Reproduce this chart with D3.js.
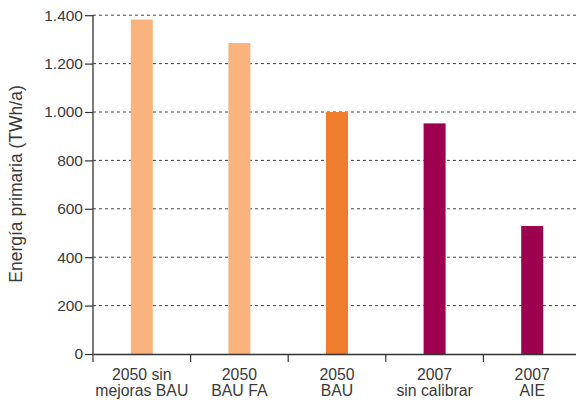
<!DOCTYPE html>
<html><head><meta charset="utf-8">
<script src="https://cdn.jsdelivr.net/npm/d3@7"></script>
<style>body{margin:0;background:#fff}svg{display:block}text{font-family:"Liberation Sans",Arial,sans-serif;fill:#3a3a3a}</style>
</head><body><svg id="c" width="576" height="400"></svg>
<script>
const categories = [["2050 sin","mejoras BAU"],["2050","BAU FA"],["2050","BAU"],["2007","sin calibrar"],["2007","AIE"]];
const values = [1382, 1285, 1000, 953, 529];
const colors = ["#FBB37D","#FBB37D","#EE7E2D","#9E0050","#9E0050"];
const yTicks = [0,200,400,600,800,1000,1200,1400];
const yLabel = "Energía primaria (TWh/a)";

const svg = d3.select("#c");
const x = d3.scaleBand().domain(d3.range(categories.length)).range([93, 581]);
const y = d3.scaleLinear().domain([0,1400]).range([354, 15.2]);
const fmt = v => d3.format(",")(v).replace(/,/g,".");

// gridlines
svg.append("g").selectAll("line").data(yTicks.filter(t=>t>0)).join("line")
  .attr("x1",93).attr("x2",576).attr("y1",d=>y(d)).attr("y2",d=>y(d))
  .attr("stroke","#444").attr("stroke-width",1).attr("stroke-dasharray","3,3");

// bars
svg.append("g").selectAll("rect").data(values).join("rect")
  .attr("x",(d,i)=>x(i)+x.bandwidth()/2-11).attr("width",22)
  .attr("y",d=>y(d)).attr("height",d=>y(0)-y(d)).attr("fill",(d,i)=>colors[i]);

// y axis
const ya = svg.append("g").attr("transform","translate(93,0)")
  .call(d3.axisLeft(y).tickValues(yTicks).tickFormat(fmt).tickSize(8).tickPadding(2));
ya.select(".domain").attr("stroke","#333").attr("stroke-width",1.3).attr("d","M0,354V15");
ya.selectAll(".tick line").attr("stroke","#333").attr("stroke-width",1.2);
ya.selectAll(".tick text").attr("font-size",15.5).attr("fill","#3a3a3a").style("font-family","'Liberation Sans',Arial,sans-serif");

// x axis
const xa = svg.append("g").attr("transform","translate(0,354)")
  .call(d3.axisBottom(x).tickSize(0).tickFormat(""));
xa.select(".domain").attr("stroke","#333").attr("stroke-width",1.3);
xa.selectAll(".tick").remove();
svg.append("g").selectAll("line").data(d3.range(categories.length)).join("line")
  .attr("x1",i=>x(i)).attr("x2",i=>x(i)).attr("y1",354).attr("y2",362)
  .attr("stroke","#333").attr("stroke-width",1.2);

// x labels
const lab = svg.append("g").selectAll("text").data(categories).join("text")
  .attr("text-anchor","middle").attr("font-size",15.8)
  .attr("x",(d,i)=>x(i)+x.bandwidth()/2);
lab.selectAll("tspan").data(d=>d).join("tspan")
  .attr("x",function(){return this.parentNode.getAttribute("x");})
  .attr("y",(d,j)=>380+j*16).text(d=>d);

// y label
svg.append("text").attr("transform","translate(22,184) rotate(-90)")
  .attr("text-anchor","middle").attr("font-size",17.5).text(yLabel);
</script></body></html>
